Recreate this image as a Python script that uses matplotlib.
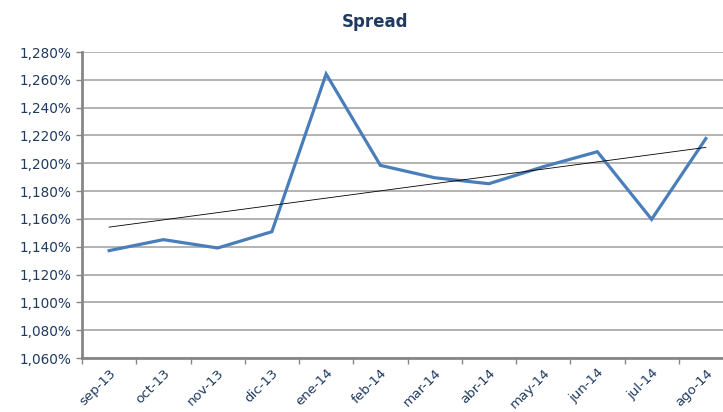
import matplotlib
matplotlib.use("Agg")
import matplotlib.pyplot as plt
import numpy as np
from matplotlib.ticker import FuncFormatter, MultipleLocator

months = ["sep-13", "oct-13", "nov-13", "dic-13", "ene-14", "feb-14",
          "mar-14", "abr-14", "may-14", "jun-14", "jul-14", "ago-14"]
spread = [1.1372, 1.1451, 1.1391, 1.1508, 1.2642, 1.1985,
          1.1896, 1.1853, 1.1975, 1.2083, 1.1597, 1.2178]

navy = "#1F3A60"
fig = plt.figure(figsize=(7.23, 4.12), dpi=100)
ax = fig.add_axes([82/723, 54/412, (733-82)/723, 306/412])

x = np.arange(len(months))
ax.plot(x, spread, color="#4A7EBB", lw=2.3, solid_joinstyle="miter", zorder=3)
coef = np.polyfit(x, spread, 1)
ax.plot(x, np.polyval(coef, x), color="black", lw=0.6, zorder=4)

ax.set_xlim(-0.5, len(months) - 0.5)
ax.set_ylim(1.060, 1.280)
ax.yaxis.set_major_locator(MultipleLocator(0.020))
ax.yaxis.set_major_formatter(FuncFormatter(lambda v, p: f"{v:,.3f}".replace(".", ",") + "%"))
ax.grid(axis="y", color="#A6A6A6", lw=1.2)
ax.set_axisbelow(True)

ax.set_xticks(x)
ax.set_xticklabels(months, rotation=45, ha="right", rotation_mode="anchor", fontsize=9.6)
ax.set_xticks(np.arange(-0.5, len(months), 1), minor=True)
ax.tick_params(axis="x", which="major", length=0, pad=6, labelcolor=navy)
ax.tick_params(axis="x", which="minor", length=4, color="#868686", width=1)
ax.tick_params(axis="y", length=4, color="#868686", width=1, labelsize=9.8, labelcolor=navy)

for s in ["top", "right"]:
    ax.spines[s].set_visible(False)
for s in ["left", "bottom"]:
    ax.spines[s].set_color("#868686")
    ax.spines[s].set_linewidth(2)

fig.text(375/723, 1 - 22/412, "Spread", ha="center", va="center",
         fontsize=12, fontweight="bold", color=navy)

fig.savefig("out.png", dpi=100)
